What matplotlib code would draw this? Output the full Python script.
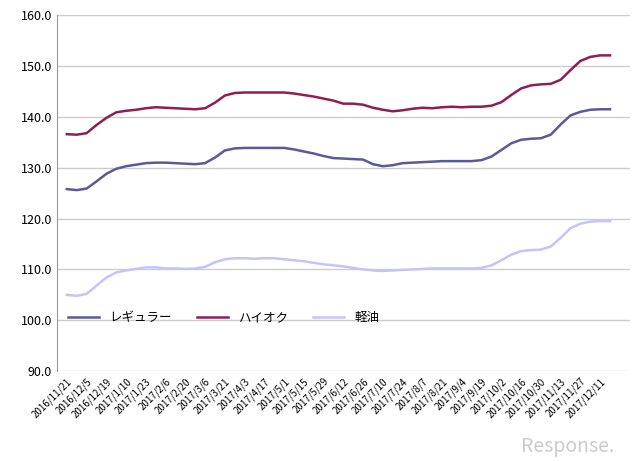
import matplotlib
matplotlib.use("Agg")
import matplotlib.pyplot as plt

plt.rcParams["font.family"] = ["Noto Sans CJK JP", "DejaVu Sans"]

labels = ["2016/11/21","2016/12/5","2016/12/19","2017/1/10","2017/1/23","2017/2/6","2017/2/20",
          "2017/3/6","2017/3/21","2017/4/3","2017/4/17","2017/5/1","2017/5/15","2017/5/29",
          "2017/6/12","2017/6/26","2017/7/10","2017/7/24","2017/8/7","2017/8/21","2017/9/4",
          "2017/9/19","2017/10/2","2017/10/16","2017/10/30","2017/11/13","2017/11/27","2017/12/11"]

regular = [125.8,125.6,125.9,127.3,128.8,129.8,130.3,130.6,130.9,131.0,
           131.0,130.9,130.8,130.7,130.9,132.0,133.4,133.8,133.9,133.9,
           133.9,133.9,133.9,133.6,133.2,132.8,132.3,131.9,131.8,131.7,
           131.6,130.7,130.3,130.5,130.9,131.0,131.1,131.2,131.3,131.3,
           131.3,131.3,131.5,132.2,133.5,134.8,135.5,135.7,135.8,136.5,
           138.5,140.3,141.0,141.4,141.5,141.5]
highoct = [136.6,136.5,136.8,138.4,139.8,140.9,141.2,141.4,141.7,141.9,
           141.8,141.7,141.6,141.5,141.7,142.8,144.2,144.7,144.8,144.8,
           144.8,144.8,144.8,144.6,144.3,144.0,143.6,143.2,142.6,142.6,
           142.4,141.8,141.4,141.1,141.3,141.6,141.8,141.7,141.9,142.0,
           141.9,142.0,142.0,142.2,142.9,144.3,145.6,146.2,146.4,146.5,
           147.3,149.2,151.0,151.8,152.1,152.1]
diesel = [105.0,104.8,105.2,106.8,108.4,109.4,109.8,110.1,110.4,110.4,
          110.2,110.2,110.1,110.2,110.5,111.4,112.0,112.2,112.2,112.1,
          112.2,112.2,112.0,111.8,111.6,111.3,111.0,110.8,110.6,110.3,
          110.0,109.8,109.7,109.8,109.9,110.0,110.1,110.2,110.2,110.2,
          110.2,110.2,110.3,110.8,111.8,112.9,113.6,113.8,113.9,114.5,
          116.2,118.1,119.0,119.4,119.5,119.5]
names = ["レギュラー", "ハイオク", "軽油"]

fig = plt.figure(figsize=(6.4, 4.61), dpi=100)
ax = fig.add_axes([0.089, 0.195, 0.895, 0.772])
x = list(range(len(regular)))
ax.plot(x, regular, color="#5A5A98", lw=1.8, label=names[0])
ax.plot(x, highoct, color="#8E1E55", lw=1.8, label=names[1])
ax.plot(x, diesel, color="#C4C4FA", lw=1.8, label=names[2])
ax.set_ylim(90, 160)
ax.set_xlim(-1, len(regular) + 1)
ax.set_yticks(range(90, 161, 10))
ax.set_yticklabels([f"{v:.1f}" for v in range(90, 161, 10)], fontsize=9)
ax.set_xticks(range(0, 2 * len(labels), 2))
ax.set_xticklabels(labels, rotation=45, ha="right", rotation_mode="anchor", fontsize=7)
ax.tick_params(length=0)
ax.grid(axis="y", color="#cccccc", lw=1)
for s in ["top", "right", "bottom"]:
    ax.spines[s].set_visible(False)
ax.spines["left"].set_color("#999999")
ax.legend(loc="lower left", bbox_to_anchor=(0.0, 0.1), ncol=3, frameon=False, fontsize=9,
          handlelength=2.5, columnspacing=2)
fig.text(0.96, 0.02, "Response.", color="#cccccc", fontsize=14, ha="right", style="italic")
fig.savefig("out.png")
